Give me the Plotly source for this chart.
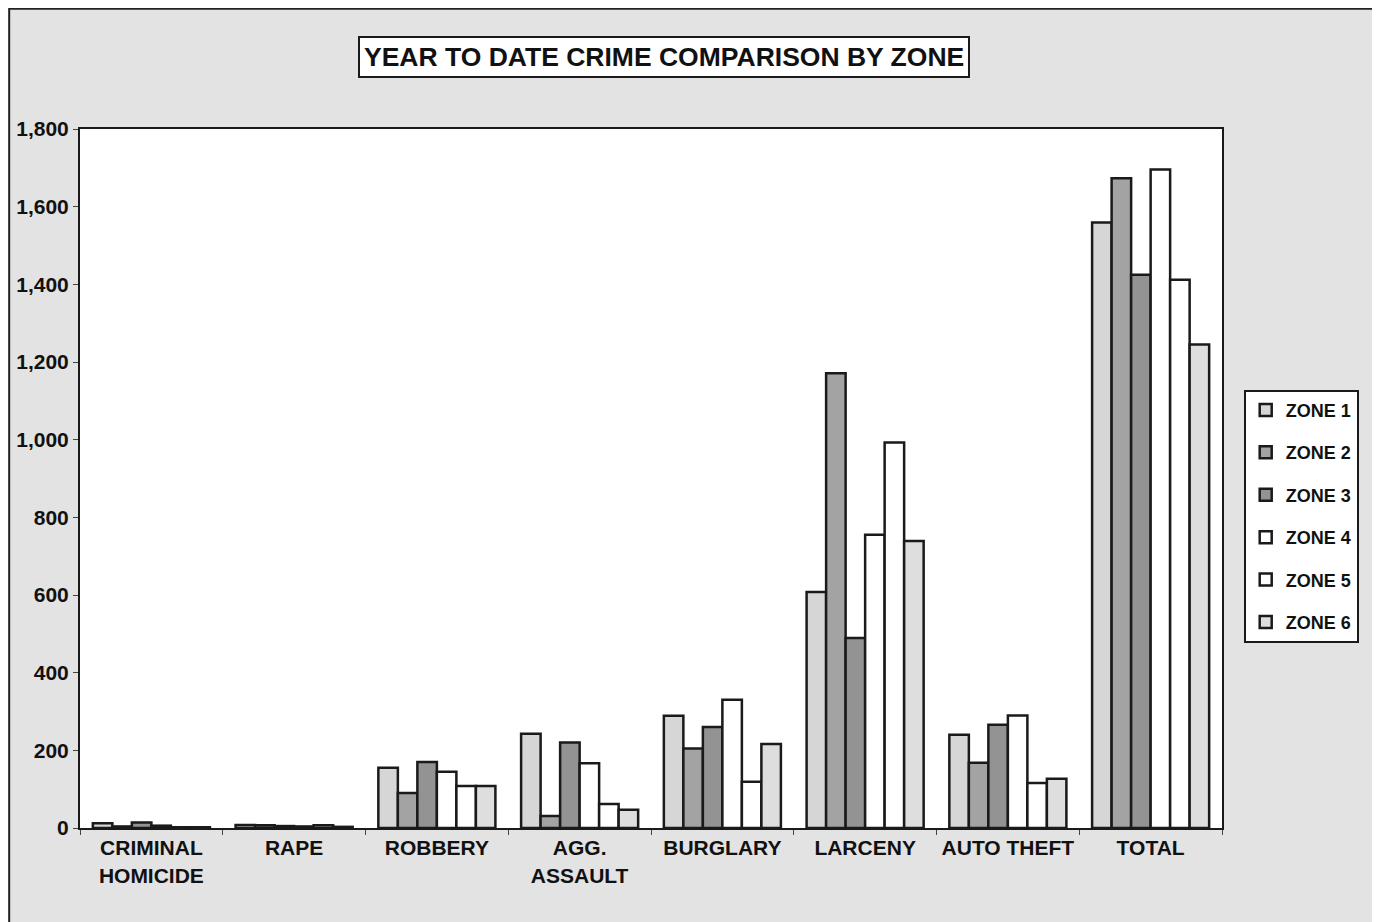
import plotly.graph_objects as go

categories = ["CRIMINAL<br>HOMICIDE", "RAPE", "ROBBERY", "AGG.<br>ASSAULT",
              "BURGLARY", "LARCENY", "AUTO THEFT", "TOTAL"]
zone_names = ["ZONE 1", "ZONE 2", "ZONE 3", "ZONE 4", "ZONE 5", "ZONE 6"]

zone1 = [12, 8, 155, 243, 289, 608, 240, 1559]
zone2 = [4, 7, 90, 31, 205, 1171, 168, 1673]
zone3 = [14, 5, 170, 220, 260, 489, 266, 1425]
zone4 = [6, 4, 145, 167, 330, 755, 290, 1696]
zone5 = [2, 7, 108, 62, 119, 993, 116, 1412]
zone6 = [2, 3, 108, 47, 216, 739, 127, 1245]

series = [zone1, zone2, zone3, zone4, zone5, zone6]
fills = ["#d6d6d6", "#a3a3a3", "#939393", "#ffffff", "#ffffff", "#dedede"]

fig = go.Figure()
for i, (name, vals) in enumerate(zip(zone_names, series)):
    fig.add_trace(go.Bar(
        x=categories, y=vals, name=name,
        marker=dict(color=fills[i], line=dict(color="#1a1a1a", width=2.5)),
        legendgroup=name,
    ))

FONT = "Liberation Sans, Arial"
fig.update_layout(
    width=1372, height=914,
    barmode="group", bargap=0.18, bargroupgap=0,
    paper_bgcolor="#e3e3e3", plot_bgcolor="#ffffff",
    margin=dict(l=72, r=158, t=121, b=94, autoexpand=False),
    font=dict(family=FONT, size=20, color="#111111", weight="bold"),
    showlegend=True,
    legend=dict(
        x=1.019, xanchor="left", y=0.627, yanchor="top",
        bgcolor="#ffffff", bordercolor="#1a1a1a", borderwidth=2,
        font=dict(size=18, color="#111111", family=FONT, weight="bold"),
        traceorder="grouped", tracegroupgap=16,
        itemwidth=30,
    ),
    annotations=[dict(
        text="<b>YEAR TO DATE CRIME COMPARISON BY ZONE</b>",
        xref="paper", yref="paper", x=0.511, y=1.103,
        xanchor="center", yanchor="middle", showarrow=False,
        font=dict(size=26.5, color="#111111", family=FONT),
        bgcolor="#ffffff", bordercolor="#1a1a1a", borderwidth=2,
        borderpad=4,
    )],
    shapes=[dict(type="rect", xref="paper", yref="paper",
                 x0=-0.062, x1=1.135, y0=-0.2, y1=1.172,
                 line=dict(color="#222222", width=2), layer="below")],
)

fig.update_xaxes(
    showline=True, linecolor="#1a1a1a", linewidth=2, mirror=True,
    ticks="outside", tickson="boundaries", ticklen=5, tickcolor="#444",
    tickfont=dict(size=21, color="#111111", family=FONT, weight="bold"),
    showgrid=False, automargin=False,
)
fig.update_yaxes(
    range=[0, 1800], dtick=200, tickformat=",",
    showline=True, linecolor="#1a1a1a", linewidth=2, mirror=True,
    ticks="outside", ticklen=5, tickcolor="#444",
    tickfont=dict(size=21, color="#111111", family=FONT, weight="bold"),
    showgrid=False, zeroline=False, automargin=False,
)

fig.write_html("out.html")
